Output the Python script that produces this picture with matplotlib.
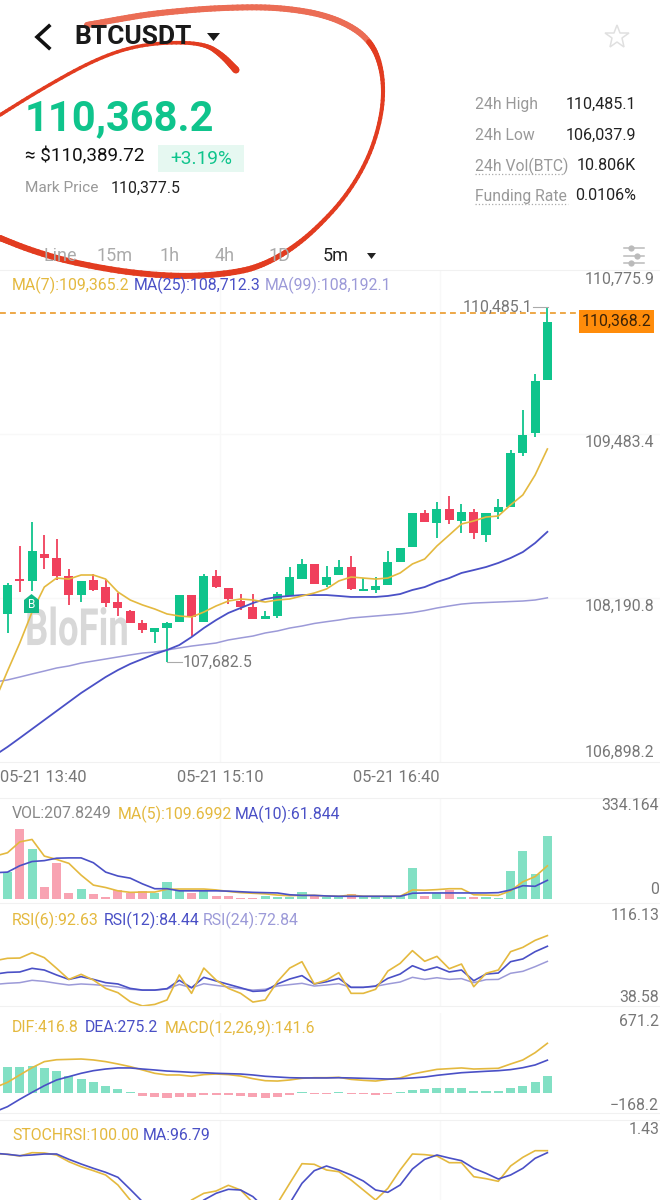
import numpy as np
import matplotlib
matplotlib.use('Agg')
import matplotlib.pyplot as plt
from matplotlib.collections import LineCollection
from matplotlib.patches import Rectangle, Polygon
from matplotlib.patheffects import AbstractPathEffect
from matplotlib.transforms import Affine2D

plt.rcParams['font.family'] = ['Roboto', 'DejaVu Sans']

# candles, index 0..44
opens = [108065, 108337, 108325, 108538, 108506, 108364, 108215, 108333, 108278, 108160,
         108089, 107994, 107923, 107955, 108002, 108215, 108002, 108364, 108270, 108167,
         108120, 108026, 108049, 108207, 108341, 108459, 108294, 108372, 108435, 108246,
         108254, 108294, 108475, 108593, 108861, 108782, 108892, 108798, 108869, 108688,
         108869, 108908, 109334, 109491, 109909]
closes = [108294, 108321, 108561, 108506, 108364, 108215, 108325, 108254, 108152, 108112,
          107994, 107939, 107955, 107994, 108215, 108041, 108364, 108278, 108183, 108120,
          108026, 108049, 108223, 108357, 108459, 108301, 108357, 108435, 108262, 108262,
          108286, 108475, 108585, 108861, 108790, 108892, 108806, 108869, 108703, 108861,
          108908, 109334, 109476, 109901, 110368.2]
highs = [108309, 108601, 108790, 108688, 108656, 108420, 108325, 108380, 108333, 108230,
         108096, 108018, 107955, 108002, 108215, 108215, 108380, 108412, 108270, 108223,
         108223, 108089, 108238, 108435, 108498, 108459, 108443, 108491, 108522, 108349,
         108357, 108561, 108585, 108861, 108885, 108948, 108995, 108932, 108892, 108861,
         108971, 109357, 109673, 109956, 110485.1]
lows = [107915, 108238, 108246, 108420, 108333, 108136, 108160, 108246, 108120, 108049,
        107994, 107915, 107836, 107682.5, 108002, 107892, 108002, 108270, 108144, 108096,
        108026, 108026, 108033, 108207, 108341, 108301, 108278, 108372, 108254, 108246,
        108230, 108294, 108475, 108593, 108790, 108664, 108774, 108703, 108656, 108632,
        108814, 108908, 109310, 109460, 109909]

# line series start one bar before the first candle, index -1..44
ma7 = [107387, 107615, 107836, 108080, 108277, 108348, 108340, 108372, 108372, 108340,
       108238, 108175, 108136, 108104, 108065, 108049, 108041, 108080, 108128, 108167,
       108183, 108175, 108159, 108175, 108183, 108207, 108230, 108262, 108325, 108356,
       108348, 108340, 108348, 108388, 108459, 108498, 108601, 108687, 108774, 108798,
       108829, 108837, 108924, 109003, 109160, 109365.2]
ma25 = [106953, 107017, 107087, 107158, 107229, 107300, 107371, 107442, 107505, 107568,
        107623, 107671, 107710, 107749, 107781, 107820, 107883, 107954, 108017, 108073,
        108112, 108151, 108183, 108199, 108207, 108214, 108214, 108214, 108207, 108199,
        108199, 108199, 108207, 108222, 108254, 108277, 108317, 108348, 108388, 108411,
        108435, 108467, 108506, 108553, 108624, 108712.3]
ma99 = [107529, 107545, 107568, 107592, 107615, 107639, 107655, 107678, 107694, 107710,
        107726, 107742, 107757, 107765, 107781, 107797, 107812, 107824, 107836, 107860,
        107876, 107891, 107915, 107931, 107954, 107970, 107990, 108004, 108017, 108033,
        108041, 108049, 108057, 108065, 108076, 108092, 108112, 108128, 108143, 108151,
        108155, 108159, 108163, 108167, 108175, 108192.1]

vol = [90, 233, 167, 41, 120, 19, 32, 16, 8, 30, 21, 26, 21, 56, 26, 21, 26, 11, 11, 4,
       4, 10, 8, 8, 22, 11, 5, 7, 15, 7, 6, 9, 10, 103, 10, 19, 30, 7, 7, 8, 4, 93, 158,
       82, 207.82]
vol_ma5 = [142, 153, 189, 197, 142, 131, 118, 79, 46, 38, 27, 22, 23, 23, 32, 33, 33, 33,
           30, 25, 21, 19, 17, 13, 11, 12, 12, 10, 9, 13, 9, 9, 9, 9, 30, 29, 31, 34, 34,
           14, 13, 12, 27, 57, 74, 109.7]
vol_ma10 = [87, 89, 110, 124, 127, 135, 136, 136, 120, 89, 76, 69, 50, 34, 34, 27, 27, 27,
            27, 26, 24, 22, 21, 20, 14, 12, 12, 10, 9, 9, 9, 9, 9, 9, 19, 20, 20, 20, 20,
            20, 20, 21, 30, 44, 42, 61.84]

rsi6 = [73.4, 75.2, 75.4, 79.5, 75.7, 67.5, 59.0, 62.9, 58.5, 52.1, 48.8, 41.9, 38.6, 39.8,
        43.2, 62.4, 48.3, 67.7, 58.5, 52.1, 48.3, 41.6, 43.2, 57.3, 67.7, 72.6, 55.5, 58.5,
        64.2, 48.3, 48.3, 51.4, 65.4, 71.3, 81.1, 72.9, 76.7, 67.2, 70.8, 53.4, 63.7, 66.2,
        80.3, 83.6, 89.0, 92.63]
rsi12 = [63.1, 64.4, 64.7, 67.5, 66.2, 62.4, 59.0, 61.1, 59.0, 56.5, 55.5, 52.1, 50.8, 50.8,
         51.9, 58.3, 52.6, 60.6, 57.8, 55.2, 52.6, 49.8, 50.3, 55.5, 59.3, 61.9, 55.5, 57.2,
         59.8, 52.9, 52.9, 53.9, 59.8, 63.1, 69.5, 65.9, 68.5, 64.7, 66.2, 58.0, 63.1, 63.9,
         72.6, 74.7, 80.3, 84.44]
rsi24 = [55.2, 56.0, 56.5, 58.3, 57.5, 56.0, 54.7, 55.5, 55.0, 54.2, 53.2, 51.4, 50.8, 50.8,
         51.6, 55.2, 52.6, 55.7, 54.4, 53.2, 51.9, 50.8, 51.4, 53.9, 55.0, 56.0, 53.9, 54.7,
         55.7, 52.9, 52.9, 53.7, 55.5, 57.0, 60.6, 59.0, 60.3, 59.0, 59.6, 56.5, 58.8, 59.0,
         63.7, 65.2, 68.8, 72.84]

dif = [47, 89, 151, 212, 263, 279, 282, 285, 277, 263, 243, 221, 193, 165, 151, 151, 140,
       154, 159, 154, 142, 120, 103, 100, 109, 123, 128, 128, 131, 114, 106, 100, 114, 126,
       159, 179, 198, 204, 210, 201, 204, 207, 243, 277, 338, 416.8]
dea = [-157, -115, -53, 5, 61, 109, 137, 165, 187, 201, 210, 210, 201, 193, 184, 179, 173,
       170, 165, 162, 159, 151, 140, 134, 128, 126, 126, 126, 128, 126, 123, 120, 117, 120,
       126, 134, 148, 159, 170, 176, 182, 187, 196, 212, 235, 275.2]
macd = [215, 215, 224, 210, 182, 145, 118, 90, 59, 34, 5, -22, -34, -42, -34, -36, -17, -14,
        -14, -22, -34, -39, -31, -17, 5, -8, -8, 5, -8, -8, -14, -8, 5, 25, 34, 42, 39, 39,
        20, 17, 14, 39, 59, 95, 141.6]

stoch = [95.2, 94.2, 91.5, 96.8, 96.3, 93.1, 82.4, 74.4, 68.0, 61.1, 45.1, 21.1, -10.9, -32.2,
         -26.9, -0.2, 21.1, 31.8, 35.5, 44.6, 37.1, 16.9, -10.9, 15.8, 47.8, 79.2, 78.2, 69.1,
         66.4, 53.1, 37.1, 21.1, 39.8, 69.1, 94.7, 93.7, 91.5, 80.8, 80.8, 58.4, 55.2, 51.0,
         75.5, 89.4, 100.0, 100.0]
stoch_ma = [95.8, 94.2, 92.0, 93.1, 94.7, 94.7, 86.2, 78.7, 71.8, 65.4, 57.4, 38.2, 18.4, -5.6,
            -21.5, -10.9, 5.1, 21.1, 31.8, 38.2, 37.1, 26.5, 7.8, -0.2, 15.8, 47.8, 68.0, 75.5,
            69.1, 61.1, 51.5, 37.1, 33.4, 45.1, 70.7, 86.2, 93.1, 88.3, 84.0, 71.8, 63.8, 54.7,
            61.1, 71.8, 87.8, 96.79]

price_ticks = ['110,775.9', '109,483.4', '108,190.8', '106,898.2']
time_ticks = ['05-21 13:40', '05-21 15:10', '05-21 16:40']
tabs = ['Line', '15m', '1h', '4h', '1D']
stats = [('24h High', '110,485.1'), ('24h Low', '106,037.9'),
         ('24h Vol(BTC)', '10.806K'), ('Funding Rate', '0.0106%')]

green = '#0fc48c'
red = '#f0405c'
soft_green = '#82e0c4'
soft_red = '#f8a3b2'
yellow = '#e4b93f'
blue = '#4a50c6'
purple = '#9c9ad8'
grid = '#f8f8f8'
tick_grey = '#777777'

W, H = 660, 1200
fig = plt.figure(figsize=(W / 100, H / 100), dpi=100, facecolor='white')
idx = np.arange(45)
line_idx = np.arange(-1, 45)


class Squeeze(AbstractPathEffect):
    # the watermark is set in a condensed face, squeeze the glyphs sideways
    def __init__(self, x0, sx):
        super().__init__()
        self.x0, self.sx = x0, sx

    def draw_path(self, renderer, gc, tpath, affine, rgbFace=None):
        squeeze = Affine2D().translate(-self.x0, 0).scale(self.sx, 1).translate(self.x0, 0)
        renderer.draw_path(gc, tpath, affine + squeeze, rgbFace)


def panel(top, bottom, ymax, ymin):
    # axes span the whole width, bar i sits at pixel 7.5 + 12.27 * i
    ax = fig.add_axes([0, 1 - bottom / H, 1, (bottom - top) / H])
    ax.set_xlim(-7.5 / 12.27, (W - 7.5) / 12.27)
    ax.set_ylim(ymin, ymax)
    ax.axis('off')
    for v in [W / 3, 2 * W / 3]:
        ax.axvline((v - 7.5) / 12.27, color=grid, lw=1, zorder=0)
    return ax


# main chart
ax = panel(270, 762, 110775.9, 106898.2)
ax.axhline(109483.4, color=grid, lw=1, zorder=0)
ax.axhline(108190.8, color=grid, lw=1, zorder=0)
ax.text(1.43, 107820, 'BloFin', weight='bold', fontsize=37, color='#d8d8d8',
        va='baseline', ha='left', zorder=1, path_effects=[Squeeze(25, 0.71)])
ax.vlines(idx, lows, highs, lw=1.3, colors=[green if c >= o else red for o, c in zip(opens, closes)], zorder=2)
for i, o, c in zip(idx, opens, closes):
    ax.add_patch(Rectangle((i - 0.37, min(o, c)), 0.74, abs(c - o),
                           color=green if c >= o else red, lw=0, zorder=2))
ax.plot(line_idx, ma99, color=purple, lw=1.1, zorder=3)
ax.plot(line_idx, ma25, color=blue, lw=1.3, zorder=3)
ax.plot(line_idx, ma7, color=yellow, lw=1.2, zorder=3)
ax.axhline(110440, xmax=580 / 660, color='#ea9a2a', lw=1.2, ls=(0, (3.5, 2.5)), zorder=4)

# volume
ax = panel(798, 899, 334.164, 0)
ax.bar(idx, vol, width=0.74, color=[soft_green if c >= o else soft_red for o, c in zip(opens, closes)], zorder=2)
ax.plot(line_idx, vol_ma5, color=yellow, lw=1.2, zorder=3)
ax.plot(line_idx, vol_ma10, color=blue, lw=1.2, zorder=3)

# rsi
ax = panel(905, 1006, 116.13, 38.58)
ax.plot(line_idx, rsi24, color=purple, lw=1.1)
ax.plot(line_idx, rsi12, color=blue, lw=1.2)
ax.plot(line_idx, rsi6, color=yellow, lw=1.2)

# macd
ax = panel(1013, 1113, 671.2, -168.2)
ax.bar(idx, macd, width=0.74, color=[soft_green if v >= 0 else soft_red for v in macd], zorder=2)
ax.plot(line_idx, dif, color=yellow, lw=1.2, zorder=3)
ax.plot(line_idx, dea, color=blue, lw=1.2, zorder=3)

# stoch rsi, cut by the bottom of the screenshot
ax = panel(1120, 1200, 149.1, 21.1)
ax.plot(line_idx, stoch, color=yellow, lw=1.2)
ax.plot(line_idx, stoch_ma, color=blue, lw=1.2)

# everything else is placed in screen pixels
ov = fig.add_axes([0, 0, 1, 1], zorder=10)
ov.set_xlim(0, W)
ov.set_ylim(H, 0)
ov.axis('off')
ov.patch.set_alpha(0)


def label(x, y, s, size=11.4, color='#222222', ha='left', **kw):
    ov.text(x, y + 1, s, fontsize=size, color=color, ha=ha, va='center', **kw)


def chaikin(pts, rounds=3):
    pts = np.asarray(pts, float)
    for _ in range(rounds):
        a, b = pts[:-1], pts[1:]
        mid = np.empty((2 * len(a), pts.shape[1]))
        mid[0::2] = 0.75 * a + 0.25 * b
        mid[1::2] = 0.25 * a + 0.75 * b
        pts = np.vstack([pts[:1], mid, pts[-1:]])
    return pts


for y in [270, 762, 798, 903, 1006, 1113, 1120]:
    ov.plot([0, W], [y, y], color='#f1f1f1', lw=0.8)

# header
ov.plot([49, 37, 49], [26, 37, 48], color='#111111', lw=2.6, solid_joinstyle='miter')
label(74, 36, 'BTCUSDT', size=19, color='#1a1a1a', weight='bold')
ov.add_patch(Polygon([(207, 33), (220, 33), (213.5, 41)], color='#1a1a1a', lw=0))
ov.plot(617, 37, marker='*', ms=18, mfc='none', mec='#e0e0e0', mew=1.1)
label(25, 118, '110,368.2', size=30, color=green, weight='bold')
label(25, 155, '≈ $110,389.72', size=13.6, color='#111111')
ov.add_patch(Rectangle((158, 145), 86, 27, color='#e6f8f1', lw=0))
label(201, 158, '+3.19%', size=13.8, color=green, ha='center')
label(25, 187, 'Mark Price', size=11.1, color='#999999')
label(111, 187, '110,377.5', size=11.4, color='#222222')

for (name, val), y in zip(stats, [103, 134, 165, 195]):
    label(475, y, name, size=11.3, color='#999999')
    label(636, y, val, size=11.6, color='#222222', ha='right')
ov.plot([475, 564], [174, 174], color='#aaaaaa', lw=0.9, ls=':')
ov.plot([475, 568], [204, 204], color='#aaaaaa', lw=0.9, ls=':')

for x, t in zip([60, 115, 170, 225, 280], tabs):
    label(x, 255, t, size=13, color='#aaaaaa', ha='center')
label(336, 255, '5m', size=13, color='#222222', ha='center')
ov.add_patch(Polygon([(367, 253), (376, 253), (371.5, 259)], color='#222222', lw=0))
for y, kx in zip([248, 256, 263], [631, 637, 631]):
    ov.plot([624, 644], [y, y], color='#bbbbbb', lw=1.1)
    ov.plot(kx, y, marker='o', ms=4.5, color='#bbbbbb', mew=0)

# red marker pen circle, the stroke is lighter and wider at the top
pen_circle = [(87, 25, 6), (120, 19, 6), (150, 14, 6), (190, 10, 6), (220, 8, 6), (260, 7, 6),
              (290, 9, 6), (320, 14, 6), (345, 23, 6), (365, 36, 6), (378, 55, 5), (384, 85, 4),
              (381, 120, 4), (368, 160, 4), (345, 198, 4), (315, 230, 4.5), (290, 250, 5),
              (265, 264, 5.5), (240, 272, 6), (190, 277, 6), (130, 273, 6), (70, 262, 6),
              (30, 250, 6), (0, 238, 6)]
pen_hook = [(0, 115, 3.5), (40, 90, 3.5), (90, 62, 3.5), (130, 47, 3.5), (170, 42, 3.5),
            (205, 44, 4), (222, 55, 6), (236, 70, 7)]
for stroke in [pen_circle, pen_hook]:
    s = chaikin(stroke)
    segs = np.stack([s[:-1, :2], s[1:, :2]], axis=1)
    cols = ['#eb6d55' if (p[1] < 40 and p[0] > 80 and stroke is pen_circle) else '#e23c20' for p in s[:-1]]
    ov.add_collection(LineCollection(segs, linewidths=s[:-1, 2] * 0.72, colors=cols, capstyle='round'))

# price axis
for y, t in zip([278, 441, 605, 751], price_ticks):
    label(654, y, t, color=tick_grey, ha='right')
label(183, 661, '107,682.5', color=tick_grey)
ov.plot([167, 182], [662, 662], color='#aaaaaa', lw=0.8)
label(532, 306, '110,485.1', color=tick_grey, ha='right')
ov.plot([533, 548], [307, 307], color='#aaaaaa', lw=0.8)
ov.add_patch(Rectangle((579, 310), 75, 23, color='#ff8c0a', lw=0))
label(616.5, 320.5, '110,368.2', color='#3a2208', ha='center')
for x, t in zip([0, 177, 353], time_ticks):
    label(x, 777, t, color='#777777', size=11.9)

# buy marker
ov.add_patch(Polygon([(24, 600), (31.5, 594), (39, 600), (39, 613), (24, 613)], color='#12b886', lw=0))
label(31.5, 604, 'B', size=8.5, color='white', ha='center')

# legends
label(12, 284, 'MA(7):109,365.2', color=yellow)
label(134, 284, 'MA(25):108,712.3', color=blue)
label(265, 284, 'MA(99):108,192.1', color=purple)
label(12, 813, 'VOL:207.8249', color='#888888')
label(118, 813, 'MA(5):109.6992', color=yellow)
label(235, 813, 'MA(10):61.844', color=blue)
label(12, 919, 'RSI(6):92.63', color=yellow)
label(104, 919, 'RSI(12):84.44', color=blue)
label(203, 919, 'RSI(24):72.84', color=purple)
label(12, 1027, 'DIF:416.8', color=yellow)
label(85, 1027, 'DEA:275.2', color=blue)
label(165, 1027, 'MACD(12,26,9):141.6', color=yellow)
label(12, 1134, 'STOCHRSI:100.00', color=yellow)
label(143, 1134, 'MA:96.79', color=blue)

# right hand scales of the lower panels
for y, t in [(805, '334.164'), (888, '0'), (914, '116.13'), (997, '38.58'),
             (1021, '671.2'), (1104, '−168.2'), (1128, '1.43')]:
    label(659, y, t, color=tick_grey, ha='right')

fig.savefig('out.png', dpi=100)
